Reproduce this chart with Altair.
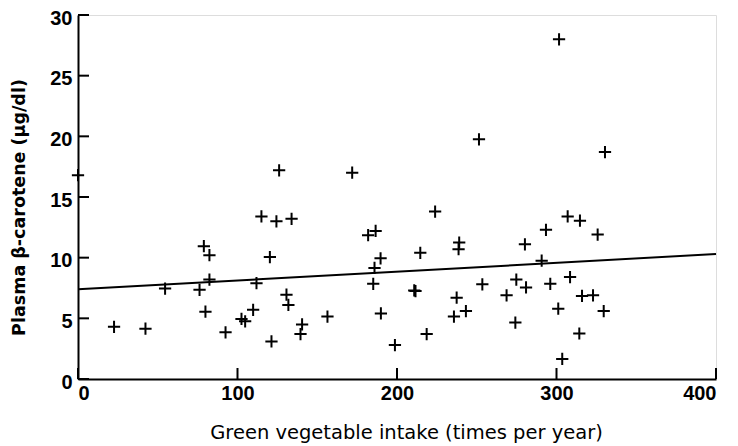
import altair as alt
import pandas as pd

# Scatter data
intake = [0, 22.6, 42.3, 54.6, 76.2, 78.9, 82.4, 82.4, 79.9, 92.5,
          102.5, 104.8, 109.8, 111.9, 115.0, 120.3, 121.3, 124.4, 126.1, 130.7,
          131.9, 133.9, 139.5, 140.5, 156.4, 171.9, 181.9, 185.1, 185.9, 186.6,
          189.7, 189.9, 198.7, 210.8, 211.6, 214.6, 218.6, 223.9, 235.7, 237.4,
          238.6, 239.0, 243.2, 251.4, 253.5, 268.7, 274.2, 274.8, 280.2, 280.9,
          290.7, 293.4, 296.1, 301.1, 301.6, 303.6, 307.0, 308.5, 314.3, 314.7,
          316.0, 322.9, 325.8, 329.6, 330.4]
carotene = [16.8, 4.3, 4.15, 7.45, 7.35, 10.95, 10.2, 8.2, 5.55, 3.85,
            4.95, 4.75, 5.7, 7.9, 13.4, 10.05, 3.1, 13.0, 17.2, 6.95,
            6.1, 13.2, 3.7, 4.5, 5.15, 17.0, 11.85, 7.85, 9.15, 12.2,
            9.95, 5.4, 2.8, 7.3, 7.25, 10.4, 3.7, 13.8, 5.15, 6.7,
            10.7, 11.25, 5.6, 19.75, 7.8, 6.9, 4.65, 8.2, 11.1, 7.55,
            9.75, 12.3, 7.85, 5.8, 28.0, 1.65, 13.4, 8.4, 3.75, 13.05,
            6.85, 6.9, 11.9, 5.6, 18.7]

# Regression line end points
line_x = [0, 400]
line_y = [7.4, 10.3]

# Tick values
x_ticks = [0, 100, 200, 300, 400]
y_ticks = [0, 5, 10, 15, 20, 25, 30]

W, H = 638, 364

pts = pd.DataFrame({"x": intake, "y": carotene})
reg = pd.DataFrame({"x": line_x, "y": line_y})
xt = pd.DataFrame({"x": x_ticks})
yt = pd.DataFrame({"y": y_ticks})

xscale = alt.Scale(domain=[0, 400], nice=False, zero=False)
yscale = alt.Scale(domain=[0, 30], nice=False, zero=False)

FONT = "Liberation Sans"
TFONT = "DejaVu Sans"

xaxis = alt.Axis(values=x_ticks, ticks=False, grid=False, domainColor="black",
                 domainWidth=2, labelFont=FONT, labelFontSize=20, labelFontWeight="bold",
                 labelColor="black", labelPadding=4,
                 title="Green vegetable intake (times per year)", titleFont=TFONT,
                 titleFontSize=19.5, titleFontWeight="normal", titleColor="black",
                 titleX=328, titleY=53, titleBaseline="middle")
yaxis = alt.Axis(values=y_ticks, ticks=False, grid=False, domainColor="black",
                 domainWidth=2, labelFont=FONT, labelFontSize=20, labelFontWeight="bold",
                 labelColor="black", labelPadding=6, labelOffset=3,
                 title="Plasma β-carotene (μg/dl)", titleFont=TFONT,
                 titleFontSize=17.5, titleFontWeight="bold", titleColor="black",
                 titleAngle=270, titleX=-59, titleY=192, titleBaseline="middle",
                 titleAlign="center")

plus = "M-1,0L1,0M0,-1L0,1"

points = alt.Chart(pts).mark_point(shape=plus, filled=False, stroke="black",
                                   strokeWidth=2, size=150, opacity=1).encode(
    x=alt.X("x:Q", scale=xscale, axis=xaxis),
    y=alt.Y("y:Q", scale=yscale, axis=yaxis),
)

line = alt.Chart(reg).mark_line(color="black", strokeWidth=2).encode(
    x=alt.X("x:Q", scale=xscale),
    y=alt.Y("y:Q", scale=yscale),
)

xtick_rules = alt.Chart(xt).mark_rule(color="black", strokeWidth=2).encode(
    x=alt.X("x:Q", scale=xscale),
    y=alt.value(H),
    y2=alt.value(H - 11),
)

ytick_rules = alt.Chart(yt).mark_rule(color="black", strokeWidth=2).encode(
    y=alt.Y("y:Q", scale=yscale),
    x=alt.value(0),
    x2=alt.value(11),
)

chart = alt.layer(line, points, xtick_rules, ytick_rules).properties(
    width=W, height=H,
    autosize=alt.AutoSizeParams(type="none"),
    padding={"left": 70, "top": 7, "right": 14, "bottom": 67},
).configure_view(stroke=None).configure(background="white")

chart.save("out.html", embed_options={"renderer": "svg", "actions": False})
